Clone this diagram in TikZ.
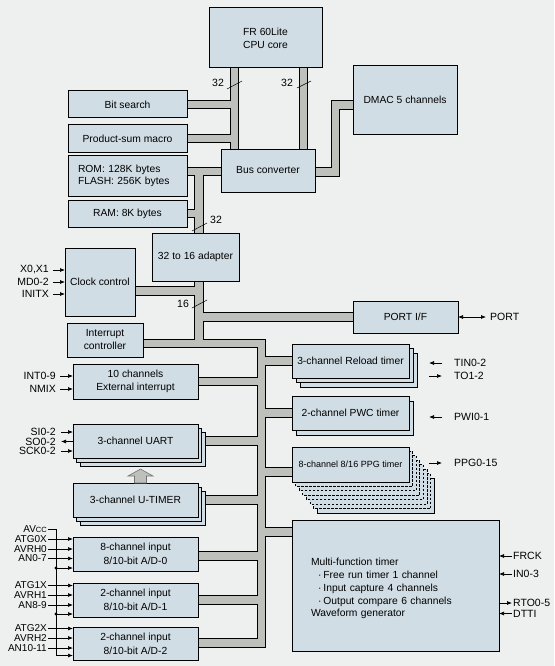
\documentclass[tikz,border=0pt]{standalone}
\usepackage{fontspec}
\setmainfont{Liberation Sans}
\usetikzlibrary{arrows.meta,calc}
\pgfdeclarelayer{bglayer}
\pgfdeclarelayer{buslayer}
\pgfdeclarelayer{shadlayer}
\pgfsetlayers{bglayer,buslayer,shadlayer,main}
\definecolor{bgc}{RGB}{237,240,239}
\definecolor{boxc}{RGB}{209,221,228}
\definecolor{busc}{RGB}{190,193,187}
\newcommand\busnet[1]{%
\draw[#1] (cpu.south -| vL) -- (busconv.north -| vL);
\draw[#1] (bits.east) -- (bits.east -| vL);
\draw[#1] (psm.east) -- (psm.east -| vL);
\draw[#1] (cpu.south -| vR) -- (busconv.north -| vR);
\draw[#1] (busconv.east |- dm1) -- (dm1) -- (dm2) -- (dmac.west |- dm2);
\draw[#1] (rom.east |- r1) -- (busconv.west |- r1);
\draw[#1] (r1) -- (adapter.north -| r1);
\draw[#1] (ram.east) -- (ram.east -| vM);
\draw[#1] (adapter.south -| vM) -- (ia);
\draw[#1] (clock.east |- ck) -- (vM |- ck);
\draw[#1] (port.west) -- (port.west -| vM);
\draw[#1] (intc.east |- bt) -- (bt) -- (bb) -- (ad2.east |- bb);
\draw[#1] (ext.east) -- (ext.east -| vB);
\draw[#1] (uart.east) -- (uart.east -| vB);
\draw[#1] (utim.east) -- (utim.east -| vB);
\draw[#1] (ad0.east |- a0) -- (vB |- a0);
\draw[#1] (ad1.east) -- (ad1.east -| vB);
\draw[#1] (reload.west) -- (reload.west -| vB);
\draw[#1] (pwc.west) -- (pwc.west -| vB);
\draw[#1] (ppg.west |- pp) -- (vB |- pp);
\draw[#1] (mft.west |- m1) -- (vB |- m1);
}
\begin{document}
\begin{tikzpicture}[x=1pt,y=-1pt,
  box/.style={draw=black, fill=boxc, line width=1pt, inner sep=0pt, outer sep=0pt,
    align=center, font=\fontsize{10.3}{13}\selectfont},
  adbox/.style={box, minimum width=125, font=\fontsize{10.3}{14}\selectfont},
  shadowbox/.style={draw=black, fill=boxc, line width=0.9pt},
  pdash/.style={dash pattern=on 2.5pt off 1.5pt},
  lbl/.style={inner sep=0pt, font=\fontsize{10.5}{12}\selectfont},
  adlbl/.style={inner sep=0pt, anchor=east, font=\fontsize{10}{11}\selectfont},
  sig/.style={draw=black, line width=0.7pt, -{Latex[length=5pt,width=4pt]}},
  sigline/.style={draw=black, line width=0.7pt},
  wmark/.style={draw=black, line width=0.5pt},
  fatarrow/.style={draw=black!55, fill=busc, line width=0.6pt}
]
\useasboundingbox (0,0) rectangle (554,666);
\begin{pgfonlayer}{bglayer}
\fill[bgc] (0,0) rectangle (554,666);
\end{pgfonlayer}

% ---------- boxes ----------
\node[box, minimum width=113, minimum height=60] (cpu) at (265.5,38) {FR 60Lite\\CPU core};
\node[box, minimum width=119, minimum height=27] (bits) at (127.5,104.5) {Bit search};
\node[box, minimum width=119, minimum height=27] (psm) at (127.5,138.5) {Product-sum macro};
\node[box, minimum width=119, minimum height=41, text width=99, inner xsep=10pt, align=left,
  font=\fontsize{10.3}{12}\selectfont] (rom) at (127.5,175.5) {ROM: 128K bytes\\FLASH: 256K bytes};
\node[box, minimum width=119, minimum height=27] (ram) at (127.5,213.5) {RAM: 8K bytes};
\node[box, minimum width=94, minimum height=43] (busconv) at (268,170.5) {Bus converter};
\node[box, minimum width=104, minimum height=68] (dmac) at (405,100) {DMAC 5 channels};
\node[box, minimum width=87, minimum height=48] (adapter) at (195.5,257) {32 to 16 adapter};
\node[box, minimum width=70, minimum height=68] (clock) at (100,282) {Clock control};
\node[box, minimum width=105, minimum height=32] (port) at (405.5,317) {PORT I/F};
\node[box, minimum width=76, minimum height=34] (intc) at (105,340) {Interrupt\\controller};
\node[box, minimum width=125, minimum height=35] (ext) at (135.5,381.5) {10 channels\\External interrupt};
\node[box, minimum width=125, minimum height=34] (uart) at (135.5,441) {3-channel UART};
\node[box, minimum width=125, minimum height=34] (utim) at (135.5,500) {3-channel U-TIMER};
\node[adbox, minimum height=34] (ad0) at (135.5,554) {8-channel input\\8/10-bit A/D-0};
\node[adbox, minimum height=34] (ad1) at (135.5,600) {2-channel input\\8/10-bit A/D-1};
\node[adbox, minimum height=33] (ad2) at (135.5,643.5) {2-channel input\\8/10-bit A/D-2};
\node[box, minimum width=117, minimum height=34] (reload) at (350.5,361) {3-channel Reload timer};
\node[box, minimum width=117, minimum height=34] (pwc) at (350.5,413) {2-channel PWC timer};
\node[box, minimum width=117, minimum height=35, font=\fontsize{9}{11}\selectfont] (ppg) at (350.5,464.5) {8-channel 8/16 PPG timer};
\node[box, minimum width=207, minimum height=131, text width=169, inner xsep=19pt, align=left,
  font=\fontsize{10.3}{12.75}\selectfont] (mft) at (395.5,585.5)
  {\rule{0pt}{14pt}Multi-function timer\\
   \hspace*{7pt}·\hspace{2pt}Free run timer 1 channel\\
   \hspace*{7pt}·\hspace{2pt}Input capture 4 channels\\
   \hspace*{7pt}·\hspace{2pt}Output compare 6 channels\\
   Waveform generator};

% ---------- bus coordinates ----------
\coordinate (vL) at (234.5,0);
\coordinate (vR) at (303.5,0);
\coordinate (vM) at (199,0);
\coordinate (vB) at (261.5,0);
\coordinate (dm1) at (335.5,172);
\coordinate (dm2) at (335.5,105);
\coordinate (r1) at (199,171.5);
\coordinate (ck) at (0,291);
\coordinate (ia) at (199,343.5);
\coordinate (bt) at (261.5,343.5);
\coordinate (bb) at (261.5,643);
\coordinate (a0) at (0,556);
\coordinate (pp) at (0,472);
\coordinate (m1) at (0,532);

\begin{pgfonlayer}{buslayer}
\busnet{draw=black, line width=9.5pt}
\busnet{draw=busc, line width=7.5pt}
\end{pgfonlayer}

% ---------- stacked shadows ----------
\begin{pgfonlayer}{shadlayer}
\foreach \k in {2,1} {
  \draw[shadowbox] ($(uart.south west)+(3.5*\k,4.3*\k)$) rectangle ($(uart.north east)+(3.5*\k,4.3*\k)$);
  \draw[shadowbox] ($(utim.south west)+(3.5*\k,4.3*\k)$) rectangle ($(utim.north east)+(3.5*\k,4.3*\k)$);
  \draw[shadowbox] ($(reload.south west)+(4*\k,4.5*\k)$) rectangle ($(reload.north east)+(4*\k,4.5*\k)$);
}
\draw[shadowbox] ($(pwc.south west)+(4,5)$) rectangle ($(pwc.north east)+(4,5)$);
\foreach \k/\st in {7/solid,6/pdash,5/pdash,4/pdash,3/pdash,2/pdash,1/pdash} {
  \draw[shadowbox,\st] ($(ppg.south west)+(3.6*\k,4.45*\k)$) rectangle ($(ppg.north east)+(3.6*\k,4.45*\k)$);
}
\end{pgfonlayer}

% ---------- U-TIMER to UART arrow ----------
\draw[fatarrow] ([xshift=5pt]utim.north) ++(-6,0) -- ++(0,-7) -- ++(-6.5,0) -- ++(12.5,-7)
  -- ++(12.5,7) -- ++(-6.5,0) -- ++(0,7) -- cycle;

% ---------- bus width marks ----------
\node[lbl] (w1) at (218,83) {32};
\draw[wmark] (227,89) -- (242,81);
\node[lbl] (w2) at (287,83) {32};
\draw[wmark] (297,88) -- (311,81);
\node[lbl] (w3) at (216,220) {32};
\draw[wmark] (192,231) -- (207,223);
\node[lbl] (w4) at (183,304) {16};
\draw[wmark] (192,308) -- (207,300);

% ---------- clock signals ----------
\node[lbl, anchor=east] (x0) at (49,270) {X0,X1};
\node[lbl, anchor=east] (md) at (49,282) {MD0-2};
\node[lbl, anchor=east] (initx) at (49,294) {INITX};
\foreach \s in {x0,md,initx} \draw[sig] ([xshift=4pt]\s.east) -- (\s.east -| clock.west);

% ---------- external interrupt ----------
\node[lbl, anchor=east] (int) at (56,376) {INT0-9};
\node[lbl, anchor=east] (nmix) at (56,389) {NMIX};
\foreach \s in {int,nmix} \draw[sig] ([xshift=4pt]\s.east) -- (\s.east -| ext.west);

% ---------- UART ----------
\node[lbl, anchor=east] (si) at (56,432) {SI0-2};
\node[lbl, anchor=east] (so) at (56,441.5) {SO0-2};
\node[lbl, anchor=east] (sck) at (56,451) {SCK0-2};
\draw[sig] ([xshift=5pt]si.east) -- (si.east -| uart.west);
\draw[sig] (so.east -| uart.west) -- ([xshift=5pt]so.east);
\draw[sig] ([xshift=5pt]sck.east) -- (sck.east -| uart.west);

% ---------- A/D ----------
\node[adlbl] (avcc) at (47,529.5) {AV{\fontsize{7.5}{8}\selectfont CC}};
\node[adlbl] (atg0) at (47,539) {ATG0X};
\node[adlbl] (avrh0) at (47,549) {AVRH0};
\node[adlbl] (an0) at (47,558.5) {AN0-7};
\node[adlbl] (atg1) at (47,585.5) {ATG1X};
\node[adlbl] (avrh1) at (47,595) {AVRH1};
\node[adlbl] (an8) at (47,605) {AN8-9};
\node[adlbl] (atg2) at (47,628.5) {ATG2X};
\node[adlbl] (avrh2) at (47,638) {AVRH2};
\node[adlbl] (an10) at (47,648) {AN10-11};
\foreach \s in {atg0,avrh0,an0} \draw[sig] ([xshift=1pt]\s.east) -- (\s.east -| ad0.west);
\foreach \s in {atg1,avrh1,an8} \draw[sig] ([xshift=1pt]\s.east) -- (\s.east -| ad1.west);
\foreach \s in {atg2,avrh2,an10} \draw[sig] ([xshift=1pt]\s.east) -- (\s.east -| ad2.west);
\coordinate (t0) at (56,568);
\coordinate (t1) at (56,614);
\coordinate (t2) at (56,655.5);
\draw[sigline] ([xshift=1pt]avcc.east) -| (t2);
\draw[sig] (t0) -- (t0 -| ad0.west);
\draw[sig] (t1) -- (t1 -| ad1.west);
\draw[sig] (t2) -- (t2 -| ad2.west);
\fill (t0) circle (1.6);
\fill (t1) circle (1.6);

% ---------- PORT ----------
\node[lbl, anchor=west] (portl) at (490,317) {PORT};
\draw[draw=black, line width=0.7pt, {Latex[length=5pt,width=4pt]}-{Latex[length=5pt,width=4pt]}]
  (port.east) -- ([xshift=-4pt]portl.west);

% ---------- timer signals ----------
\node[lbl, anchor=west] (tin) at (454,363) {TIN0-2};
\node[lbl, anchor=west] (to) at (454,376) {TO1-2};
\node[lbl, anchor=west] (pwi) at (454,417) {PWI0-1};
\node[lbl, anchor=west] (ppgl) at (454,463) {PPG0-15};
\draw[sig] ([xshift=-12pt]tin.west) -- ([xshift=-25pt]tin.west);
\draw[sig] ([xshift=-25pt]to.west) -- ([xshift=-12pt]to.west);
\draw[sig] ([xshift=-12pt]pwi.west) -- ([xshift=-25pt]pwi.west);
\draw[sig] ([xshift=-25pt]ppgl.west) -- ([xshift=-12pt]ppgl.west);

% ---------- multi-function timer signals ----------
\node[lbl, anchor=west] (frck) at (513,556) {FRCK};
\node[lbl, anchor=west] (in03) at (513,574) {IN0-3};
\node[lbl, anchor=west] (rto) at (513,603) {RTO0-5};
\node[lbl, anchor=west] (dtti) at (513,613.5) {DTTI};
\foreach \s in {frck,in03,dtti} \draw[sig] ([xshift=-1pt]\s.west) -- (\s.west -| mft.east);
\draw[sig] (rto.west -| mft.east) -- ([xshift=-1pt]rto.west);
\end{tikzpicture}
\end{document}
